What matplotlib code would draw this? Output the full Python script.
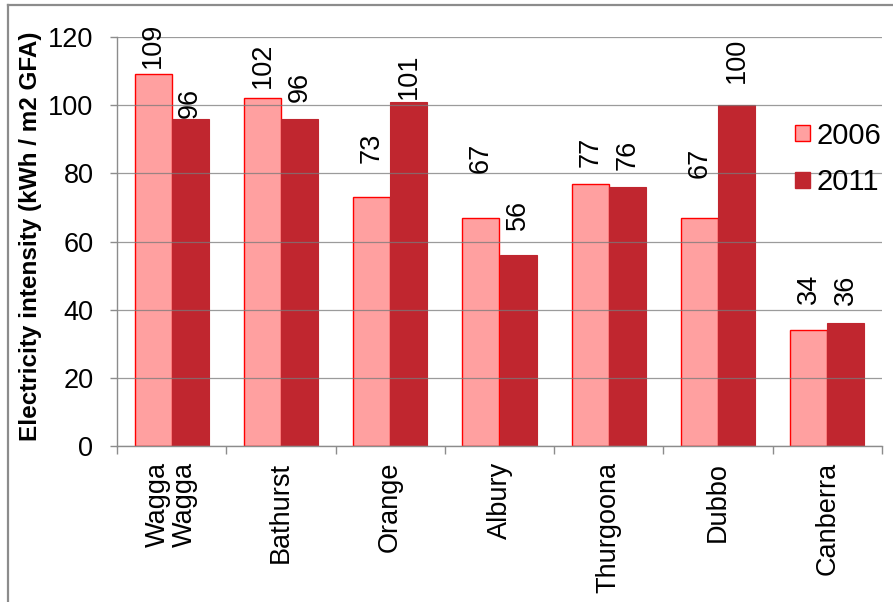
import matplotlib
matplotlib.use("Agg")
import matplotlib.pyplot as plt
import numpy as np
from matplotlib.patches import Patch
from matplotlib.lines import Line2D

plt.rcParams['font.family'] = ['Liberation Sans', 'DejaVu Sans']

# ---- data ----
categories = ["Wagga\nWagga", "Bathurst", "Orange", "Albury", "Thurgoona", "Dubbo", "Canberra"]
series_names = ["2006", "2011"]
values_2006 = [109, 102, 73, 67, 77, 67, 34]
values_2011 = [96, 96, 101, 56, 76, 100, 36]
y_ticks = [0, 20, 40, 60, 80, 100, 120]
y_label = "Electricity intensity (kWh / m2 GFA)"

# ---- layout (label gaps above bars, in pixels) ----
gap_2006 = [6, 10, 34, 45, 17, 40, 26]
gap_2011 = [1, 17, 3, 25, 17, 22, 18]

W, H = 893, 602
fig = plt.figure(figsize=(W / 100, H / 100), dpi=100)
ax = fig.add_axes([117 / W, 1 - 446 / H, (882 - 117) / W, (446 - 37) / H])

pink = "#FFA0A0"
pink_edge = "#FF0000"
dark = "#C0262F"

x = np.arange(len(categories))
bw = 0.339
b1 = ax.bar(x - bw / 2, values_2006, bw, color=pink, edgecolor=pink_edge, linewidth=1.0, zorder=2)
b2 = ax.bar(x + bw / 2, values_2011, bw, color=dark, edgecolor=dark, linewidth=0.8, zorder=2)

for bars, vals, gaps in ((b1, values_2006, gap_2006), (b2, values_2011, gap_2011)):
    for rect, v, g in zip(bars, vals, gaps):
        ax.annotate(str(v), (rect.get_x() + rect.get_width() / 2, rect.get_height()),
                    xytext=(0, g), textcoords='offset pixels', rotation=90,
                    ha='center', va='bottom', fontsize=19.5, color='black', zorder=5)

ax.set_xlim(-0.5, len(categories) - 0.5)
ax.set_ylim(0, 120)
ax.set_yticks(y_ticks)
ax.set_yticklabels([str(t) for t in y_ticks], fontsize=19.5)

# major x ticks at boundaries (no labels), minor ticks at centres with labels
ax.set_xticks(np.arange(len(categories) + 1) - 0.5)
ax.set_xticklabels([])
ax.set_xticks(x, minor=True)
ax.set_xticklabels(categories, minor=True, rotation=90, fontsize=19.5,
                   ha='center', va='top', linespacing=1.05)
ax.tick_params(axis='x', which='minor', length=0, pad=11.5)
ax.tick_params(axis='x', which='major', length=5.8, color='#8c8c8c', width=1)
ax.tick_params(axis='y', length=5, color='#8c8c8c', width=1, pad=12)

ax.yaxis.grid(True, color='#7a7a7a', linewidth=0.9, alpha=0.75, zorder=3)
ax.set_axisbelow(False)
for s in ('top', 'right'):
    ax.spines[s].set_visible(False)
for s in ('left', 'bottom'):
    ax.spines[s].set_color('#8c8c8c')
    ax.spines[s].set_linewidth(1)
    ax.spines[s].set_zorder(4)

ax.set_ylabel(y_label, fontsize=17.5, fontweight='bold', va='center')
ax.yaxis.set_label_coords((31 - 117) / (882 - 117), (446 - 236) / (446 - 37))

handles = [Patch(facecolor=pink, edgecolor=pink_edge, linewidth=1),
           Patch(facecolor=dark, edgecolor=dark)]
leg = fig.legend(handles, series_names, loc='center left',
                 bbox_to_anchor=(795 / W, 1 - 159 / H), frameon=False,
                 fontsize=21, handlelength=0.5, handleheight=0.5,
                 handletextpad=0.25, labelspacing=0.65, borderpad=0, borderaxespad=0)

# outer border (top and left visible)
fig.add_artist(Line2D([8 / W, 8 / W], [0, 1 - 5 / H], transform=fig.transFigure,
                      color='#8c8c8c', linewidth=1.6))
fig.add_artist(Line2D([8 / W, 1], [1 - 5 / H, 1 - 5 / H], transform=fig.transFigure,
                      color='#8c8c8c', linewidth=1.6))

fig.savefig("out.png", dpi=100)
